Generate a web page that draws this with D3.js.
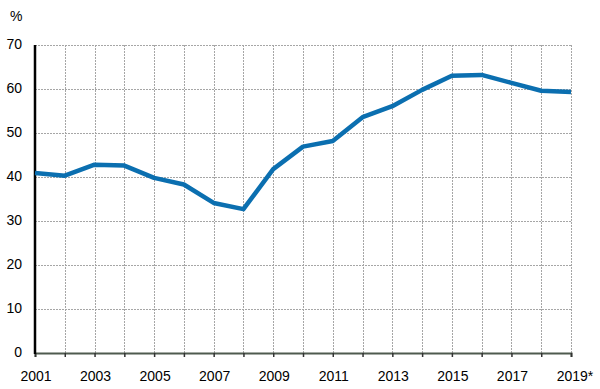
<!DOCTYPE html>
<html>
<head>
<meta charset="utf-8">
<script src="https://cdn.jsdelivr.net/npm/d3@7"></script>
<style>
  body { margin: 0; background: #fff; }
  text { font-family: "Liberation Sans", Arial, sans-serif; fill: #000; }
</style>
</head>
<body>
<div id="chart"></div>
<script>
// data
var years = [2001, 2002, 2003, 2004, 2005, 2006, 2007, 2008, 2009, 2010,
             2011, 2012, 2013, 2014, 2015, 2016, 2017, 2018, 2019];
var values = [40.9, 40.3, 42.8, 42.6, 39.8, 38.3, 34.1, 32.7, 41.8, 46.9,
              48.2, 53.6, 56.1, 59.8, 63.0, 63.2, 61.4, 59.6, 59.3];
var yTicks = [0, 10, 20, 30, 40, 50, 60, 70];
var xLabels = ["2001", "2003", "2005", "2007", "2009", "2011", "2013", "2015", "2017", "2019*"];

(function (d3) {
    var margin = {top: 45, right: 29, bottom: 36, left: 35};
    var width = 600 - margin.left - margin.right;
    var height = 389 - margin.top - margin.bottom;

    var svg = d3.select("#chart").append("svg")
                .attr("width", 600)
                .attr("height", 389);
    var g = svg.append("g")
               .attr("transform", "translate(" + margin.left + "," + margin.top + ")");

    var x = d3.scaleLinear().domain([2001, 2019]).range([0, width]);
    var y = d3.scaleLinear().domain([0, 70]).range([height, 0]);

    // horizontal grid
    g.selectAll(".hgrid")
     .data(yTicks.filter(function (d) { return d > 0; }))
     .enter().append("line")
     .attr("x1", 0).attr("x2", width)
     .attr("y1", function (d) { return y(d) + 0.5; })
     .attr("y2", function (d) { return y(d) + 0.5; })
     .attr("stroke", "#a6a6a6")
     .attr("stroke-dasharray", "2,1");

    // vertical grid
    g.selectAll(".vgrid")
     .data(years.slice(1))
     .enter().append("line")
     .attr("x1", function (d) { return Math.round(x(d)) + 0.5; })
     .attr("x2", function (d) { return Math.round(x(d)) + 0.5; })
     .attr("y1", 0).attr("y2", height)
     .attr("stroke", "#a6a6a6")
     .attr("stroke-dasharray", "2,1");

    // bottom axis
    var xAxis = d3.axisBottom(x)
                  .tickValues(years)
                  .tickSize(4)
                  .tickFormat("");
    var ax = g.append("g")
              .attr("transform", "translate(0," + height + ")")
              .call(xAxis);
    ax.select(".domain").attr("stroke", "#4f5a4f").attr("stroke-width", 2);
    ax.selectAll(".tick line").attr("stroke", "#333").attr("stroke-width", 1.5);

    g.selectAll(".xlab")
     .data(xLabels)
     .enter().append("text")
     .attr("x", function (d, i) { return x(years[i * 2]) + (d.length > 4 ? 4 : 1); })
     .attr("y", height + 28)
     .attr("text-anchor", "middle")
     .style("font-size", "14px")
     .text(function (d) { return d; });

    // left axis
    g.append("line")
     .attr("x1", 0).attr("x2", 0)
     .attr("y1", 0).attr("y2", height + 1)
     .attr("stroke", "#000")
     .attr("stroke-width", 2.5);

    g.selectAll(".ylab")
     .data(yTicks)
     .enter().append("text")
     .attr("x", -13)
     .attr("y", function (d) { return y(d) + 4; })
     .attr("text-anchor", "end")
     .style("font-size", "14px")
     .text(function (d) { return d; });

    svg.append("text")
       .attr("x", 10)
       .attr("y", 21)
       .style("font-size", "14px")
       .text("%");

    // series
    var line = d3.line()
                 .x(function (d, i) { return x(years[i]); })
                 .y(function (d) { return y(d); });
    g.append("path")
     .datum(values)
     .attr("d", line)
     .attr("fill", "none")
     .attr("stroke", "#0b6fb0")
     .attr("stroke-width", 4.5)
     .attr("stroke-linejoin", "round");
})(d3);
</script>
</body>
</html>
